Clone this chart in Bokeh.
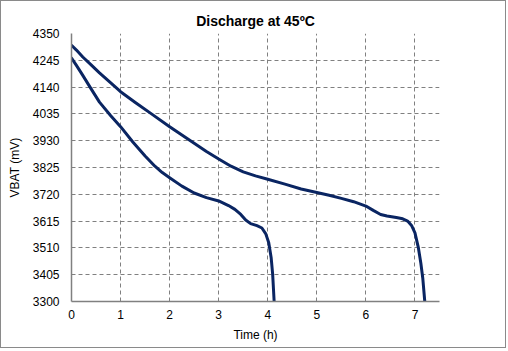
from bokeh.plotting import figure
from bokeh.models import FixedTicker, Range1d
from bokeh.embed import file_html
from bokeh.resources import INLINE

# Data
t_long = [0.0, 0.1, 0.23, 0.4, 0.57, 0.8, 1.0, 1.3, 1.63, 2.0, 2.25, 2.5, 2.75, 3.0, 3.25, 3.5, 3.75,
          4.0, 4.35, 4.68, 5.0, 5.25, 5.5, 5.75, 6.0, 6.15, 6.3, 6.43, 6.62, 6.75, 6.85, 6.93, 7.0,
          7.07, 7.12, 7.16, 7.2]
v_long = [4304, 4285, 4258, 4227, 4196, 4157, 4122, 4080, 4035, 3985, 3952, 3920, 3888, 3858, 3830, 3808, 3792,
          3779, 3760, 3741, 3727, 3716, 3704, 3691, 3674, 3657, 3641, 3635, 3629, 3624, 3615, 3598, 3569,
          3510, 3450, 3390, 3300]

t_short = [0.0, 0.1, 0.23, 0.4, 0.57, 0.8, 1.0, 1.25, 1.5, 1.7, 1.85, 2.0, 2.25, 2.5, 2.75, 3.0, 3.2,
           3.33, 3.45, 3.55, 3.65, 3.78, 3.88, 3.96, 4.02, 4.07, 4.1, 4.13]
v_short = [4254, 4225, 4186, 4133, 4081, 4028, 3985, 3925, 3870, 3830, 3805, 3785, 3752, 3725, 3707, 3694, 3676,
           3661, 3641, 3619, 3605, 3597, 3588, 3565, 3530, 3470, 3406, 3300]

x_ticks = [0, 1, 2, 3, 4, 5, 6, 7]
y_ticks = [3300, 3405, 3510, 3615, 3720, 3825, 3930, 4035, 4140, 4245, 4350]

FONT = "Liberation Sans"
GRAY = "#808080"
LINE = "#0A2562"

p = figure(width=506, height=348, output_backend="svg", toolbar_location=None,
           x_range=Range1d(0, 7.5), y_range=Range1d(3300, 4350),
           title="Discharge at 45ºC",
           min_border_left=70, min_border_right=68, min_border_top=32, min_border_bottom=48)
p.styles = {"border": "1px solid #8a8a8a"}

p.title.align = "center"
p.title.text_font = FONT
p.title.text_font_size = "14px"
p.title.text_font_style = "bold"
p.title.text_color = "black"

p.outline_line_color = None
p.background_fill_color = "white"
p.border_fill_color = "white"

for ax in (p.xaxis[0], p.yaxis[0]):
    ax.axis_line_color = GRAY
    ax.axis_line_width = 1.5
    ax.major_tick_line_color = None
    ax.minor_tick_line_color = None
    ax.major_tick_out = 0
    ax.major_tick_in = 0
    ax.major_label_text_font = FONT
    ax.major_label_text_font_size = "12px"
    ax.major_label_text_color = "black"
    ax.axis_label_text_font = FONT
    ax.axis_label_text_font_size = "12px"
    ax.axis_label_text_font_style = "normal"
    ax.axis_label_text_color = "black"

p.xaxis.ticker = FixedTicker(ticks=x_ticks)
p.yaxis.ticker = FixedTicker(ticks=y_ticks)
p.xaxis.axis_label = "Time (h)"
p.yaxis.axis_label = "VBAT (mV)"
p.xaxis.major_label_standoff = 8
p.yaxis.major_label_standoff = 12
p.xaxis.axis_label_standoff = 6
p.yaxis.axis_label_standoff = 8

for g in (p.xgrid[0], p.ygrid[0]):
    g.grid_line_color = GRAY
    g.grid_line_dash = "4 3"
    g.grid_line_width = 1

p.line(t_long, v_long, line_color=LINE, line_width=3, line_join="round", line_cap="round")
p.line(t_short, v_short, line_color=LINE, line_width=3, line_join="round", line_cap="round")

open("out.html", "w").write(file_html(p, INLINE))
